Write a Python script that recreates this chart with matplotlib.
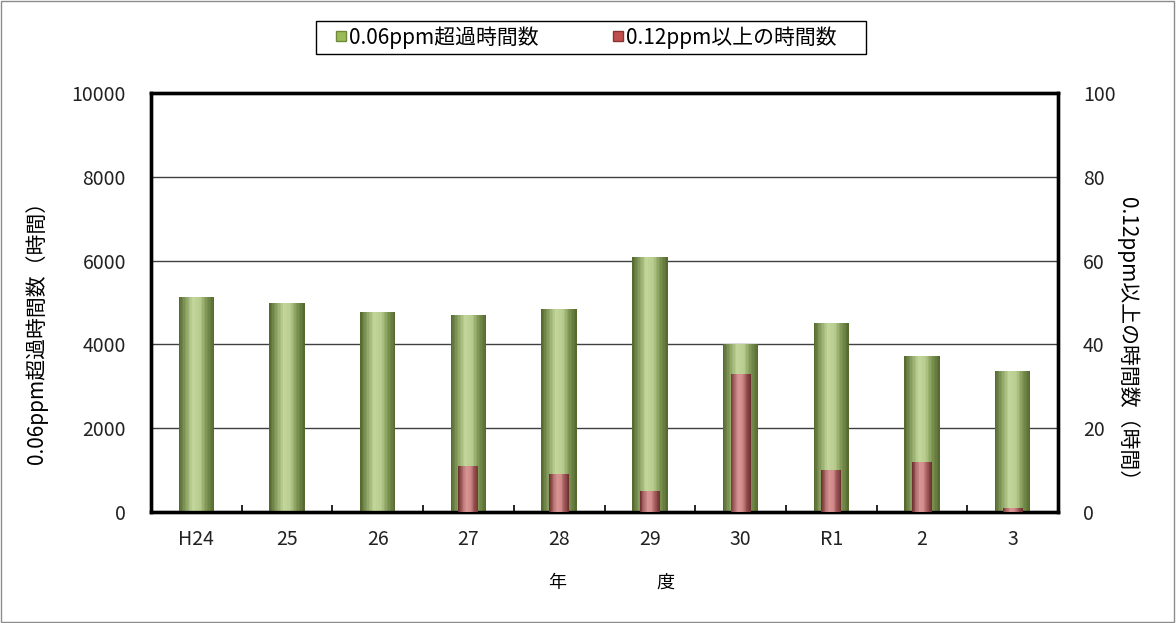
import numpy as np
import matplotlib
matplotlib.use('Agg')
import matplotlib.pyplot as plt
from matplotlib.colors import LinearSegmentedColormap
from matplotlib.lines import Line2D
from matplotlib.patches import Rectangle

plt.rcParams['font.family'] = ['Noto Sans CJK JP', 'DejaVu Sans']

years = ['H24', '25', '26', '27', '28', '29', '30', 'R1', '2', '3']
hours_006 = [5120, 4980, 4770, 4690, 4840, 6090, 4020, 4500, 3720, 3360]
hours_012 = [0, 0, 0, 11, 9, 5, 33, 10, 12, 1]

green_cmap = LinearSegmentedColormap.from_list(
    'g', ['#566b31', '#8fa566', '#c3d69b', '#b8cc8f', '#7d9452', '#566b31'])
red_cmap = LinearSegmentedColormap.from_list(
    'r', ['#6e3232', '#b36f6f', '#d99594', '#cf8a89', '#9a5252', '#6e3232'])


def gradient_bars(ax, x, heights, width, cmap, n=24):
    # draw each bar as thin vertical strips to fake the cylinder shading
    step = width / n
    for i in range(n):
        off = -width / 2 + step * (i + 0.5)
        ax.bar(x + off, heights, width=step, color=cmap(i / (n - 1)),
               linewidth=0, antialiased=False, zorder=3)


W, H = 1176, 623
fig = plt.figure(figsize=(W / 100, H / 100), dpi=100)
ax = fig.add_axes([0.1284, 0.1782, 0.7713, 0.6726])
ax2 = ax.twinx()

x = np.arange(len(years))
gradient_bars(ax, x, hours_006, 0.39, green_cmap)
gradient_bars(ax2, x, hours_012, 0.22, red_cmap)

ax.set_xlim(-0.5, len(years) - 0.5)
ax.set_ylim(0, 10000)
ax2.set_ylim(0, 100)
ax.set_yticks(np.arange(0, 10001, 2000))
ax2.set_yticks(np.arange(0, 101, 20))
ax.set_xticks(x)
ax.set_xticklabels(years)
ax.set_xticks(np.arange(0.5, len(years) - 1, 1), minor=True)

ax.grid(axis='y', color='#404040', linewidth=1, zorder=0)
ax.set_axisbelow(True)

ax.tick_params(axis='x', which='major', length=0, labelsize=14, pad=12, colors='#222')
ax.tick_params(axis='x', which='minor', length=5, width=1.2, direction='in')
ax.tick_params(axis='y', length=0, labelsize=14, pad=18, colors='#222')
ax2.tick_params(axis='y', length=0, labelsize=14, pad=18, colors='#222')

for a in (ax, ax2):
    for s in a.spines.values():
        s.set_linewidth(2.4)
        s.set_color('black')

ax.set_ylabel('0.06ppm超過時間数（時間）', fontsize=15)
ax.yaxis.set_label_coords(-0.114, 0.44)
ax2.set_ylabel('0.12ppm以上の時間数（時間）', fontsize=15, rotation=-90, va='center')
ax2.yaxis.set_label_coords(1.077, 0.40)
ax.set_xlabel('年　　　　　度', fontsize=13)
ax.xaxis.set_label_coords(0.5085, -0.148)

handles = [
    Line2D([], [], linestyle='none', marker='s', markersize=7,
           markerfacecolor='#9bbb59', markeredgecolor='#6f8a3a'),
    Line2D([], [], linestyle='none', marker='s', markersize=7,
           markerfacecolor='#c0504d', markeredgecolor='#8a3533'),
]
leg = fig.legend(handles, ['0.06ppm超過時間数', '0.12ppm以上の時間数'],
                 loc='center', bbox_to_anchor=(0.4985, 0.94), ncol=2,
                 fontsize=15, frameon=False,
                 handlelength=0.5, handletextpad=0.1, columnspacing=3.6,
                 borderpad=0.3, borderaxespad=0)

# legend frame drawn by hand (wider side padding than legend allows)
fig.patches.append(Rectangle((316 / W, 1 - 54 / H), 550 / W, 33 / H,
                             transform=fig.transFigure, fill=False,
                             edgecolor='black', linewidth=1))
fig.patches.append(Rectangle((0.001, 0.002), 0.997, 0.996, transform=fig.transFigure,
                             fill=False, edgecolor='#8c8c8c', linewidth=1))

fig.savefig('out.png', dpi=100)
